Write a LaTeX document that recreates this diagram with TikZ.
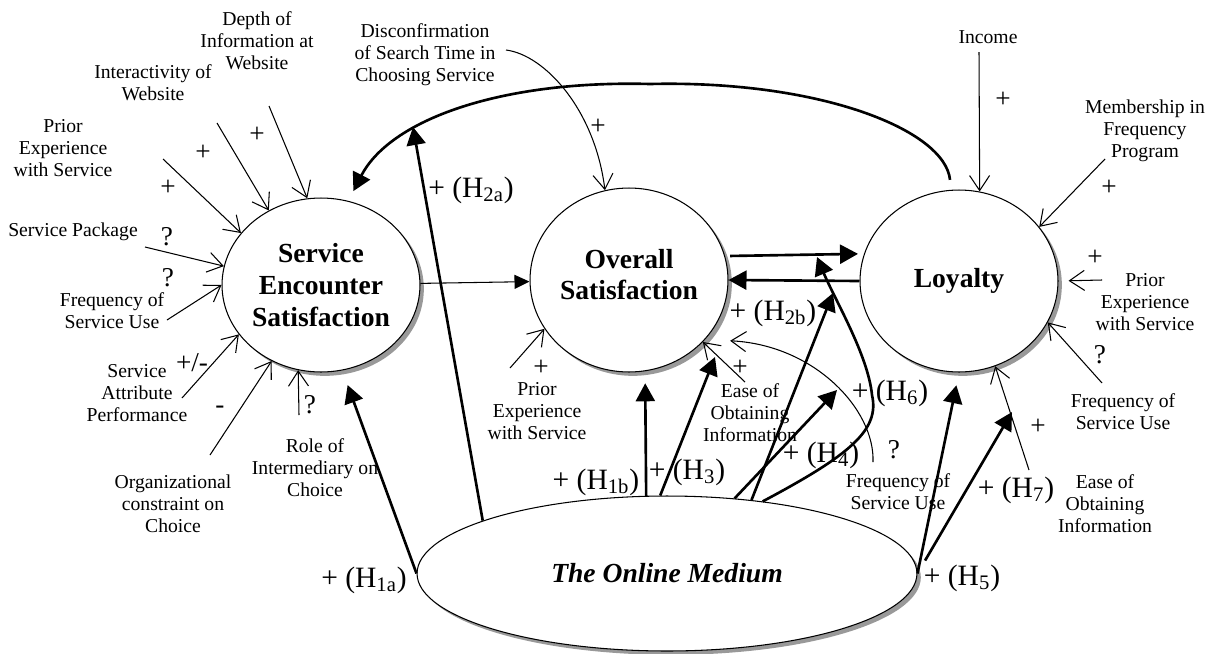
\documentclass[tikz,border=0pt]{standalone}
\usepackage{fontspec}
\setmainfont{Liberation Serif}
\usetikzlibrary{shapes.geometric,arrows.meta,shadows}

\tikzset{
	construct/.style={ellipse, draw, line width=0.6pt, fill=white, inner sep=0pt, align=center,
		drop shadow={shadow xshift=2.2pt, shadow yshift=-2.2pt, fill=black!40, opacity=1},
		font=\fontsize{15.7}{18}\selectfont\bfseries},
	factor/.style={align=center, inner sep=0pt, font=\fontsize{11.2}{12.6}\selectfont},
	sign/.style={inner sep=0pt, font=\fontsize{15.5}{16}\selectfont},
	hyplabel/.style={inner sep=0pt, font=\fontsize{16.8}{18}\selectfont},
	effect/.style={line width=0.6pt, -{Straight Barb[length=3mm,width=4mm]}},
	link/.style={line width=0.6pt, -{Triangle[length=3mm,width=2.8mm]}},
	hyp/.style={line width=1.5pt, -{Triangle[length=3.6mm,width=3.8mm]}},
}
\newcommand{\hyplab}[1]{+ (H\textsubscript{#1})}

\begin{document}
\begin{tikzpicture}[x=0.02cm, y=-0.02cm]
	\useasboundingbox (0,0) rectangle (1217,653);

	% the four constructs
	\node[construct, minimum width=3.96cm, minimum height=3.48cm] (ses) at (321,285) {Service\\Encounter\\Satisfaction};
	\node[construct, minimum width=3.96cm, minimum height=3.68cm] (os) at (629,280) {Overall\\Satisfaction\rule[-0.22cm]{0pt}{0pt}};
	\node[construct, minimum width=3.96cm, minimum height=3.64cm] (loy) at (959,281) {Loyalty};
	\node[construct, minimum width=10cm, minimum height=3.1cm] (om) at (667,573.5) {\itshape The Online Medium};

	% factors round service encounter satisfaction
	\node[factor] (dep) at (257,41) {Depth of\\Information at\\Website};
	\node[factor] (int) at (153,83) {Interactivity of\\Website};
	\node[factor] (pri1) at (63,148) {Prior\\Experience\\with Service};
	\node[factor] (pkg) at (73,232) {Service Package};
	\node[factor] (frq1) at (112,311) {Frequency of\\Service Use};
	\node[factor] (att) at (137,393) {Service\\Attribute\\Performance};
	\node[factor] (org) at (173,504) {Organizational\\constraint on\\Choice};
	\node[factor] (rol) at (315,468) {Role of\\Intermediary on\\Choice};

	\coordinate (dep-s) at (269,106);
	\coordinate (int-s) at (217,123);
	\coordinate (pri1-s) at (163,159);
	\coordinate (pkg-s) at (145,247);
	\coordinate (frq1-s) at (167,320);
	\coordinate (att-s) at (182,398);
	\coordinate (org-s) at (210,455);
	\coordinate (rol-s) at (299,415);

	\draw[effect] (dep-s) -- (ses.99.5);
	\draw[effect] (int-s) -- (ses.125.5);
	\draw[effect] (pri1-s) -- (ses.147.4);
	\draw[effect] (pkg-s) -- (ses.169.6);
	\draw[effect] (frq1-s) -- (ses.180);
	\draw[effect] (att-s) -- (ses.211);
	\draw[effect] (org-s) -- (ses.237);
	\draw[effect] (rol-s) -- (ses.255.5);

	\node[sign] at (257,135) {+};
	\node[sign] at (203,153) {+};
	\node[sign] at (168,188) {+};
	\node[sign] at (167,237) {?};
	\node[sign] at (168,278) {?};
	\node[sign] at (192,363) {+/-};
	\node[sign] at (220,410) {-};
	\node[sign] at (310,405) {?};

	% factors round overall satisfaction
	\node[factor] (dis) at (425,55) {Disconfirmation\\of Search Time in\\Choosing Service};
	\node[factor] (pri2) at (537,411) {Prior\\Experience\\with Service};
	\node[factor] (eas2) at (750,413) {Ease of\\Obtaining\\Information};
	\node[factor] (frq2) at (898,492) {Frequency of\\Service Use};

	\coordinate (dis-s) at (506,50);
	\coordinate (pri2-s) at (510,368);
	\coordinate (eas2-s) at (745,382);
	\coordinate (frq2-s) at (873,462);

	\draw[effect] (dis-s) .. controls (545,55) and (595,110) .. (os.105.6);
	\draw[effect] (pri2-s) -- (os.210.3);
	\draw[effect] (eas2-s) -- (os.320.6);
	\draw[effect, shorten >=0.5cm] (frq2-s) .. controls (875,410) and (815,345) .. (os.-38.7);

	\node[sign] at (598,127) {+};
	\node[sign] at (541,368) {+};
	\node[sign] at (740,368) {+};
	\node[sign] at (894,450) {?};

	% factors round loyalty
	\node[factor] (inc) at (988,37) {Income};
	\node[factor] (mem) at (1145,131) {Membership in\\Frequency\\Program};
	\node[factor] (pri3) at (1145,302) {Prior\\Experience\\with Service};
	\node[factor] (frq3) at (1123,412) {Frequency of\\Service Use};
	\node[factor] (eas3) at (1105,504) {Ease of\\Obtaining\\Information};

	\coordinate (inc-s) at (979,52);
	\coordinate (mem-s) at (1105,159);
	\coordinate (pri3-s) at (1102,280);
	\coordinate (frq3-s) at (1102,383);
	\coordinate (eas3-s) at (1029,470);

	\draw[effect] (inc-s) -- (loy.77.2);
	\draw[effect] (mem-s) -- (loy.34.6);
	\draw[effect, shorten >=0.2cm] (pri3-s) -- (loy.east);
	\draw[effect] (frq3-s) -- (loy.-25.6);
	\draw[effect] (eas3-s) -- (loy.-67.6);

	\node[sign] at (1003,100) {+};
	\node[sign] at (1109,188) {+};
	\node[sign] at (1095,258) {+};
	\node[sign] at (1100,355) {?};
	\node[sign] at (1038,427) {+};

	% links between constructs
	\draw[link] (ses) -- (os);
	\draw[hyp, shorten <=0.1cm, shorten >=0.12cm] (os.14.7) -- (loy.164.7);
	\draw[hyp] (loy.west) -- (os.east);
	\draw[hyp, shorten <=0.2cm, shorten >=0.22cm] (loy.95) .. controls (945,130) and (820,80) .. (650,84)
		.. controls (500,80) and (390,120) .. (ses.72);

	% hypotheses from the online medium
	\coordinate (h2a-e) at (413,127);
	\coordinate (h3-e) at (715,357);
	\coordinate (h2b-e) at (833,293);
	\coordinate (h4-e) at (837,390);
	\coordinate (h6-e) at (817,257);
	\coordinate (h7-e) at (1012,412);

	\draw[hyp, shorten >=0.31cm] (om.west) -- (ses.284.6);
	\draw[hyp] (om.164) -- (h2a-e);
	\draw[hyp, shorten >=0.24cm] (om.105.9) -- (os.280);
	\draw[hyp] (om.95.2) -- (h3-e);
	\draw[hyp] (om.41.2) -- (h2b-e);
	\draw[hyp] (om.48.9) -- (h4-e);
	\draw[hyp] (om.37.6) .. controls (850,455) and (880,430) .. (872,395)
		.. controls (868,355) and (835,300) .. (h6-e);
	\draw[hyp, shorten >=0.26cm] (om.east) -- (loy.270);
	\draw[hyp, shorten <=0.3cm] (om.east) -- (h7-e);

	\node[hyplabel] at (364,580) {\hyplab{1a}};
	\node[hyplabel] at (471,190) {\hyplab{2a}};
	\node[hyplabel] at (596,482) {\hyplab{1b}};
	\node[hyplabel] at (687,472) {\hyplab{3}};
	\node[hyplabel] at (773,313) {\hyplab{2b}};
	\node[hyplabel] at (821,455) {\hyplab{4}};
	\node[hyplabel] at (890,393) {\hyplab{6}};
	\node[hyplabel] at (962,578) {\hyplab{5}};
	\node[hyplabel] at (1016,490) {\hyplab{7}};
\end{tikzpicture}
\end{document}
